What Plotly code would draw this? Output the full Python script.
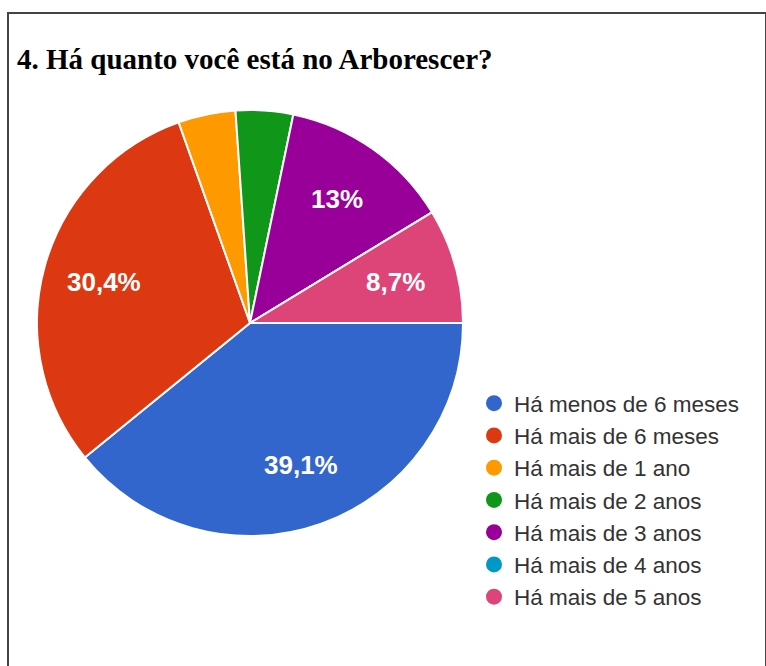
import math
import plotly.graph_objects as go

# Data
categories = ["Há menos de 6 meses", "Há mais de 6 meses", "Há mais de 1 ano",
              "Há mais de 2 anos", "Há mais de 3 anos", "Há mais de 4 anos",
              "Há mais de 5 anos"]
counts = [9, 7, 1, 1, 3, 0, 2]
colors = ["#3366CC", "#DC3912", "#FF9900", "#109618", "#990099", "#0099C6", "#DD4477"]
title_text = "4. Há quanto você está no Arborescer?"

W, H = 766, 666
total = sum(counts)


def fmt(c):
    p = 100.0 * c / total
    if p < 5:
        return ""
    s = ("%.1f" % p).rstrip("0").rstrip(".")
    return s.replace(".", ",") + "%"


labels_txt = [fmt(c) for c in counts]

fig = go.Figure()

# Pie geometry (layout)
cx, cy, r = 250, 323, 213
fig.add_trace(go.Pie(
    labels=categories,
    values=counts,
    textinfo="none",
    sort=False,
    direction="clockwise",
    rotation=90,
    marker=dict(colors=colors, line=dict(color="white", width=2)),
    showlegend=False,
    domain=dict(x=[(cx - r) / W, (cx + r) / W], y=[1 - (cy + r) / H, 1 - (cy - r) / H]),
    hoverinfo="label+percent",
))

# Percentage labels placed at slice mid-angles (derived from the data)
annotations = []
cum = 0.0
label_frac = 0.71
for c, t in zip(counts, labels_txt):
    mid = (cum + c / 2.0) / total * 2 * math.pi  # clockwise from east
    cum += c
    if not t:
        continue
    px = cx + label_frac * r * math.cos(mid)
    py = cy + label_frac * r * math.sin(mid)
    annotations.append(dict(
        text="<b>" + t + "</b>", xref="paper", yref="paper",
        x=px / W, y=1 - py / H, xanchor="center", yanchor="middle",
        showarrow=False,
        font=dict(size=26, color="white", family="Liberation Sans, Arial"),
    ))

# Legend entries with circular markers
for name, col in zip(categories, colors):
    fig.add_trace(go.Scatter(
        x=[None], y=[None], mode="markers", name=name,
        marker=dict(color=col, size=16, symbol="circle"),
        showlegend=True,
    ))

annotations.append(dict(
    text="<b>" + title_text + "</b>",
    xref="paper", yref="paper",
    x=15 / W, y=1 - 59 / H,
    xanchor="left", yanchor="middle",
    showarrow=False,
    font=dict(size=29, color="black", family="Liberation Serif, Times New Roman"),
))

fig.update_layout(
    width=W, height=H,
    margin=dict(l=0, r=0, t=0, b=0),
    paper_bgcolor="white",
    plot_bgcolor="white",
    xaxis=dict(visible=False, domain=[0.99, 1.0]),
    yaxis=dict(visible=False, domain=[0.0, 0.01]),
    legend=dict(
        x=474 / W, xanchor="left",
        y=1 - 382 / H, yanchor="top",
        font=dict(size=22.5, color="#333333", family="Liberation Sans, Arial"),
        bgcolor="rgba(0,0,0,0)",
        itemclick=False, itemdoubleclick=False,
    ),
    annotations=annotations,
    shapes=[dict(
        type="rect", xref="paper", yref="paper",
        x0=8 / W, x1=1.0, y0=-0.01, y1=1 - 13 / H,
        line=dict(color="#444444", width=2),
        fillcolor="rgba(0,0,0,0)",
    )],
)

fig.write_html("out.html")
